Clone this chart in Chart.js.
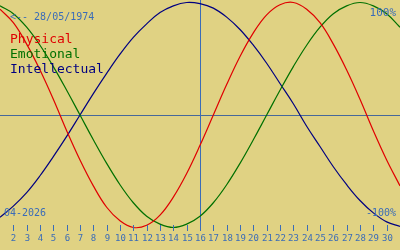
<!DOCTYPE html>
<html>
<head>
<meta charset="utf-8">
<script src="https://cdn.jsdelivr.net/npm/chart.js@4"></script>
<style>
  html, body { margin: 0; padding: 0; background: #e0d283; }
  #wrap { width: 400px; height: 250px; }
</style>
</head>
<body>
<div id="wrap"><canvas id="bioCanvas"></canvas></div>
<script>
/* ====== DATA ====== */
const days = [1, 2, 3, 4, 5, 6, 7, 8, 9, 10, 11, 12, 13, 14, 15, 16, 17, 18, 19, 20, 21, 22, 23, 24, 25, 26, 27, 28, 29, 30, 31];
const tickDays = ['2', '3', '4', '5', '6', '7', '8', '9', '10', '11', '12', '13', '14', '15', '16', '17', '18', '19', '20', '21', '22', '23', '24', '25', '26', '27', '28', '29', '30'];

const physical = [0.94, 0.82, 0.63, 0.40, 0.14, -0.14, -0.40, -0.63, -0.82, -0.94, -1.00, -0.98, -0.89, -0.73, -0.52, -0.27,
  0.00, 0.27, 0.52, 0.73, 0.89, 0.98, 1.00, 0.94, 0.82, 0.63, 0.40, 0.14, -0.14, -0.40, -0.63];
const emotional = [0.97, 0.90, 0.78, 0.62, 0.43, 0.22, 0.00, -0.22, -0.43, -0.62, -0.78, -0.90, -0.97, -1.00, -0.97, -0.90,
  -0.78, -0.62, -0.43, -0.22, 0.00, 0.22, 0.43, 0.62, 0.78, 0.90, 0.97, 1.00, 0.97, 0.90, 0.78];
const intellectual = [-0.91, -0.81, -0.69, -0.54, -0.37, -0.19, 0.00, 0.19, 0.37, 0.54, 0.69, 0.81, 0.91, 0.97, 1.00, 0.99,
  0.95, 0.87, 0.76, 0.62, 0.46, 0.28, 0.10, -0.10, -0.28, -0.46, -0.62, -0.76, -0.87, -0.95, -0.99];

const today = 16;
const birthText = '<-- 28/05/1974';
const monthText = '04-2026';
const seriesNames = ['Physical', 'Emotional', 'Intellectual'];
const seriesColors = ['#e00000', '#007000', '#000080'];

const BLUE = '#3a6cb8';
const AXIS = '#46689a';
const MONO = '"DejaVu Sans Mono", "Liberation Mono", monospace';

function toPoints(vals) {
    return vals.map((v, i) => ({ x: days[i], y: v }));
}

/* ====== OVERLAY: axis, today marker, labels ====== */
const overlay = {
    id: 'overlay',
    beforeDatasetsDraw(chart) {
        const c = chart.ctx;
        const xs = chart.scales.x;
        const ys = chart.scales.y;
        c.save();
        c.lineWidth = 1;
        // zero line
        c.strokeStyle = AXIS;
        const y0 = Math.round(ys.getPixelForValue(0)) + 0.5;
        c.beginPath();
        c.moveTo(0, y0);
        c.lineTo(400, y0);
        c.stroke();
        // today line
        c.strokeStyle = BLUE;
        const xt = Math.round(xs.getPixelForValue(today)) + 0.5;
        c.beginPath();
        c.moveTo(xt, 0);
        c.lineTo(xt, 231);
        c.stroke();
        c.restore();
    },
    afterDatasetsDraw(chart) {
        const c = chart.ctx;
        const xs = chart.scales.x;
        c.save();
        // day ticks + numbers
        c.strokeStyle = BLUE;
        c.fillStyle = BLUE;
        c.lineWidth = 1;
        c.font = '9px ' + MONO;
        c.textAlign = 'center';
        c.textBaseline = 'alphabetic';
        tickDays.forEach(t => {
            const x = Math.round(xs.getPixelForValue(Number(t))) + 0.5;
            c.beginPath();
            c.moveTo(x, 225);
            c.lineTo(x, 231);
            c.stroke();
            c.fillText(t, x, 241);
        });

        c.textAlign = 'left';
        c.font = '10px ' + MONO;
        c.fillText(birthText, 10, 20);
        c.fillText(monthText, 4, 216);

        c.textAlign = 'right';
        c.font = '11px ' + MONO;
        c.fillText('100%', 396, 16);
        c.font = '10px ' + MONO;
        c.fillText('-100%', 396, 216);

        c.textAlign = 'left';
        c.font = '13px ' + MONO;
        seriesNames.forEach((name, i) => {
            c.fillStyle = seriesColors[i];
            c.fillText(name, 10, 43 + i * 15);
        });
        c.restore();
    }
};

/* ====== CHART ====== */
const ctx = document.getElementById('bioCanvas').getContext('2d');
new Chart(ctx, {
    type: 'line',
    data: {
        datasets: [physical, emotional, intellectual].map((vals, i) => ({
            label: seriesNames[i],
            data: toPoints(vals),
            borderColor: seriesColors[i],
            borderWidth: 1.2,
            pointRadius: 0,
            tension: 0.4,
            fill: false
        }))
    },
    options: {
        responsive: true,
        maintainAspectRatio: false,
        animation: false,
        layout: { padding: 0 },
        scales: {
            x: { type: 'linear', min: 1, max: 31, display: false },
            y: { min: -1.2, max: 1.022, display: false }
        },
        plugins: {
            legend: { display: false },
            tooltip: { enabled: false }
        }
    },
    plugins: [overlay]
});
</script>
</body>
</html>
